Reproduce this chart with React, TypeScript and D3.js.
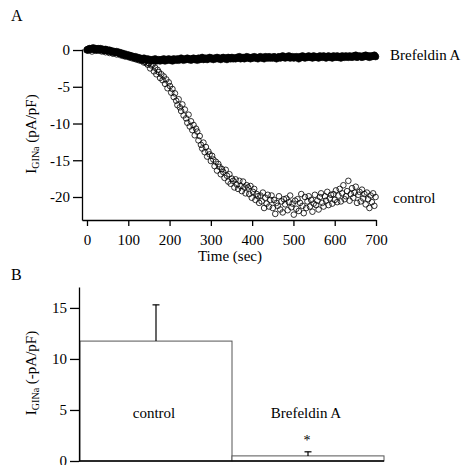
import React, { useEffect, useRef } from "react";
import * as d3 from "d3";

// ---- Panel A data (current density, pA/pF, sampled every 3 s) ----
const sampleStepSec = 3;
const controlValues: number[] = [
  0.1, -0.1, 0.2, 0.0, -0.2, 0.1, 0.0, -0.1, 0.2, 0.0,
  -0.1, 0.1, -0.2, 0.0, -0.1, -0.3, -0.1, -0.2, -0.4, -0.2,
  -0.3, -0.5, -0.3, -0.4, -0.6, -0.4, -0.5, -0.7, -0.6, -0.8,
  -0.7, -0.9, -0.8, -0.7, -1.0, -0.9, -1.1, -1.0, -1.2, -1.1,
  -1.3, -1.2, -1.4, -1.3, -1.5, -1.4, -1.7, -1.6, -1.8, -2.0,
  -1.8, -2.5, -2.1, -2.0, -2.9, -2.4, -3.3, -2.7, -3.0, -3.8,
  -3.3, -4.1, -3.6, -4.6, -4.0, -5.2, -4.4, -4.9, -5.8, -5.3,
  -6.4, -5.9, -6.9, -7.5, -6.7, -7.8, -8.3, -7.4, -8.9, -8.1,
  -9.3, -9.9, -8.8, -10.4, -9.7, -10.9, -10.2, -11.6, -10.7, -11.1,
  -12.3, -11.7, -12.9, -13.4, -12.6, -13.9, -13.2, -14.5, -13.8, -14.2,
  -15.1, -14.4, -14.9, -15.8, -15.2, -16.4, -15.5, -15.9, -16.9, -16.2,
  -16.6, -17.4, -16.3, -17.1, -17.9, -16.9, -18.2, -17.5, -17.8, -18.7,
  -17.6, -18.3, -18.9, -17.8, -18.5, -19.2, -17.9, -18.7, -19.5, -18.4,
  -18.7, -19.6, -18.5, -20.1, -19.3, -18.9, -20.4, -19.6, -19.9, -20.8,
  -19.8, -20.6, -19.4, -21.5, -20.1, -20.9, -19.7, -21.3, -20.4, -19.8,
  -21.5, -20.4, -22.3, -20.8, -21.2, -19.9, -21.7, -20.6, -22.1, -20.3,
  -21.0, -20.2, -21.8, -20.7, -19.8, -21.4, -20.9, -22.4, -20.5, -21.6,
  -20.3, -21.9, -20.8, -19.6, -21.2, -22.2, -20.0, -21.5, -20.6, -19.9,
  -21.3, -20.4, -22.0, -20.9, -19.7, -21.1, -20.5, -21.7, -20.0, -19.5,
  -20.8, -21.3, -19.9, -20.5, -19.3, -21.1, -20.2, -19.7, -20.9, -19.6,
  -20.4, -19.1, -20.7, -19.8, -18.9, -20.6, -19.5, -18.4, -20.3, -19.9,
  -19.2, -17.8, -20.5, -19.6, -18.8, -20.1, -19.4, -18.6, -20.8, -19.7,
  -19.3, -20.6, -19.0, -20.2, -19.6, -21.0, -19.4, -20.3, -21.5, -19.8,
  -20.7, -19.5, -21.2, -20.0,
];
const brefeldinValues: number[] = [
  0.0, 0.1, 0.2, 0.1, 0.2, 0.3, 0.1, 0.2, 0.0, 0.2,
  0.1, 0.2, 0.0, 0.1, -0.1, 0.1, 0.0, -0.1, 0.0, -0.2,
  -0.1, -0.3, -0.2, -0.3, -0.2, -0.4, -0.3, -0.5, -0.4, -0.6,
  -0.5, -0.7, -0.6, -0.8, -0.7, -0.9, -0.8, -0.9, -1.0, -0.9,
  -1.1, -1.0, -1.2, -1.1, -1.3, -1.2, -1.1, -1.3, -1.4, -1.2,
  -1.4, -1.3, -1.5, -1.3, -1.4, -1.2, -1.5, -1.4, -1.3, -1.5,
  -1.3, -1.4, -1.2, -1.5, -1.3, -1.4, -1.2, -1.4, -1.3, -1.5,
  -1.2, -1.3, -1.4, -1.2, -1.4, -1.3, -1.1, -1.3, -1.4, -1.2,
  -1.3, -1.1, -1.3, -1.2, -1.4, -1.2, -1.1, -1.3, -1.2, -1.4,
  -1.1, -1.3, -1.2, -1.0, -1.3, -1.2, -1.1, -1.3, -1.2, -1.0,
  -1.2, -1.1, -1.3, -1.1, -1.2, -1.0, -1.2, -1.1, -1.3, -1.1,
  -1.0, -1.2, -1.1, -1.3, -1.0, -1.1, -1.2, -1.0, -1.2, -1.1,
  -1.2, -1.0, -1.1, -0.9, -1.2, -1.1, -1.0, -1.2, -1.1, -0.9,
  -1.1, -1.0, -1.2, -1.0, -1.1, -0.9, -1.1, -1.0, -1.2, -1.0,
  -0.9, -1.1, -1.0, -1.2, -0.9, -1.0, -1.1, -0.9, -1.1, -1.0,
  -1.1, -0.9, -1.0, -1.2, -1.0, -0.9, -1.1, -1.0, -0.8, -1.0,
  -1.1, -0.9, -1.0, -0.8, -1.1, -1.0, -0.9, -1.1, -1.0, -0.9,
  -1.0, -1.2, -0.9, -1.0, -0.8, -1.0, -1.1, -0.9, -1.0, -0.8,
  -1.0, -0.9, -1.1, -0.8, -1.0, -0.9, -1.0, -1.1, -0.8, -0.9,
  -1.0, -0.8, -0.9, -1.1, -0.9, -0.8, -1.0, -0.9, -1.1, -0.8,
  -0.9, -1.0, -0.8, -1.0, -0.9, -1.1, -0.8, -0.9, -1.0, -0.8,
  -0.9, -1.0, -0.8, -0.9, -1.0, -0.8, -0.9, -0.7, -1.0, -0.9,
  -0.8, -0.9, -1.0, -0.8, -0.9, -0.7, -0.9, -0.8, -1.0, -0.8,
  -0.9, -0.8, -0.7, -0.9,
];
const timeTicks = [0, 100, 200, 300, 400, 500, 600, 700];
const currentTicksA = [0, -5, -10, -15, -20];

// ---- Panel B data ----
const barCategories = ["control", "Brefeldin A"];
const barMeans = [11.75, 0.5];
const barErrors = [3.55, 0.4];
const currentTicksB = [0, 5, 10, 15];

const FONT = "'Liberation Serif', 'Times New Roman', Times, serif";

export default function App() {
  const ref = useRef<SVGSVGElement | null>(null);

  useEffect(() => {
    const svg = d3.select(ref.current);
    svg.selectAll("*").remove();
    const root = svg.append("g").style("font-family", FONT);

    const styleAxis = (g: any) => {
      g.attr("font-family", null).style("font-family", FONT).attr("font-size", 15);
      g.selectAll("path,line").attr("stroke", "#000").attr("stroke-width", 1.3);
      g.selectAll("text").attr("fill", "#000").style("font-family", FONT);
    };

    // ===== Panel A =====
    const xT = d3.scaleLinear().domain([-12.1, 700]).range([82, 376]);
    const yT = d3.scaleLinear().domain([-23.13, 0.14]).range([220, 49]);

    root.append("text").attr("x", 11).attr("y", 21).attr("font-size", 16).text("A");

    const ctrl = controlValues.map((v, i) => ({ t: i * sampleStepSec, v }));
    const bref = brefeldinValues.map((v, i) => ({ t: i * sampleStepSec, v }));

    root.append("g").selectAll("circle").data(ctrl).join("circle")
      .attr("cx", (d) => xT(d.t)).attr("cy", (d) => yT(d.v)).attr("r", 2.8)
      .attr("fill", "none").attr("stroke", "#000").attr("stroke-width", 0.8);

    root.append("g").selectAll("circle").data(bref).join("circle")
      .attr("cx", (d) => xT(d.t)).attr("cy", (d) => yT(d.v)).attr("r", 3.3)
      .attr("fill", "#000").attr("stroke", "#000").attr("stroke-width", 0.6);

    root.append("g").attr("transform", "translate(0,220)")
      .call(d3.axisBottom(xT).tickValues(timeTicks).tickSize(6).tickSizeOuter(0).tickPadding(8).tickFormat((d: any) => String(d)))
      .call(styleAxis);
    root.append("g").attr("transform", "translate(82,0)")
      .call(d3.axisLeft(yT).tickValues(currentTicksA).tickSize(9).tickSizeOuter(0).tickPadding(3).tickFormat((d: any) => String(d)))
      .call(styleAxis);

    root.append("text").attr("x", 230).attr("y", 261).attr("text-anchor", "middle").attr("font-size", 15).text("Time (sec)");
    root.append("text").attr("x", 390).attr("y", 60).attr("font-size", 15).text("Brefeldin A");
    root.append("text").attr("x", 393).attr("y", 203).attr("font-size", 15).text("control");

    const yLabA = root.append("text").attr("transform", "translate(36,134) rotate(-90)").attr("text-anchor", "middle").attr("font-size", 15);
    yLabA.append("tspan").text("I");
    yLabA.append("tspan").attr("font-size", 10).attr("dy", 3).text("GINa");
    yLabA.append("tspan").attr("dy", -3).text(" (pA/pF)");

    // ===== Panel B =====
    const xB = d3.scaleBand().domain(barCategories).range([80, 384]).padding(0);
    const yB = d3.scaleLinear().domain([0, 17.05]).range([461, 287]);

    root.append("text").attr("x", 11).attr("y", 280).attr("font-size", 16).text("B");

    const bars = barCategories.map((c, i) => ({ c, m: barMeans[i], e: barErrors[i] }));
    const gB = root.append("g");
    gB.selectAll("rect").data(bars).join("rect")
      .attr("x", (d) => xB(d.c)!).attr("y", (d) => yB(d.m))
      .attr("width", xB.bandwidth()).attr("height", (d) => yB(0) - yB(d.m))
      .attr("fill", "#fff").attr("stroke", "#555").attr("stroke-width", 1);

    bars.forEach((d) => {
      const cx = xB(d.c)! + xB.bandwidth() / 2;
      gB.append("line").attr("x1", cx).attr("x2", cx).attr("y1", yB(d.m)).attr("y2", yB(d.m + d.e)).attr("stroke", "#000").attr("stroke-width", 1.2);
      gB.append("line").attr("x1", cx - 3.5).attr("x2", cx + 3.5).attr("y1", yB(d.m + d.e)).attr("y2", yB(d.m + d.e)).attr("stroke", "#000").attr("stroke-width", 1.2);
      gB.append("text").attr("x", cx - 2).attr("y", 418).attr("text-anchor", "middle").attr("font-size", 15).text(d.c);
    });
    const cxBref = xB("Brefeldin A")! + xB.bandwidth() / 2;
    gB.append("text").attr("x", cxBref - 1).attr("y", 445).attr("text-anchor", "middle").attr("font-size", 14).text("*");

    gB.append("line").attr("x1", 79).attr("x2", 384).attr("y1", 461).attr("y2", 461).attr("stroke", "#000").attr("stroke-width", 1.3);

    root.append("g").attr("transform", "translate(79,0)")
      .call(d3.axisLeft(yB).tickValues(currentTicksB).tickSize(9).tickSizeOuter(0).tickPadding(3).tickFormat((d: any) => String(d)))
      .call(styleAxis);

    const yLabB = root.append("text").attr("transform", "translate(36,373) rotate(-90)").attr("text-anchor", "middle").attr("font-size", 15);
    yLabB.append("tspan").text("I");
    yLabB.append("tspan").attr("font-size", 10).attr("dy", 3).text("GINa");
    yLabB.append("tspan").attr("dy", -3).text(" (-pA/pF)");
  }, []);

  return (
    <svg
      ref={ref}
      width={472}
      height={465}
      style={{ position: "absolute", left: 0, top: 0, background: "#fff", fontFamily: FONT }}
    />
  );
}
